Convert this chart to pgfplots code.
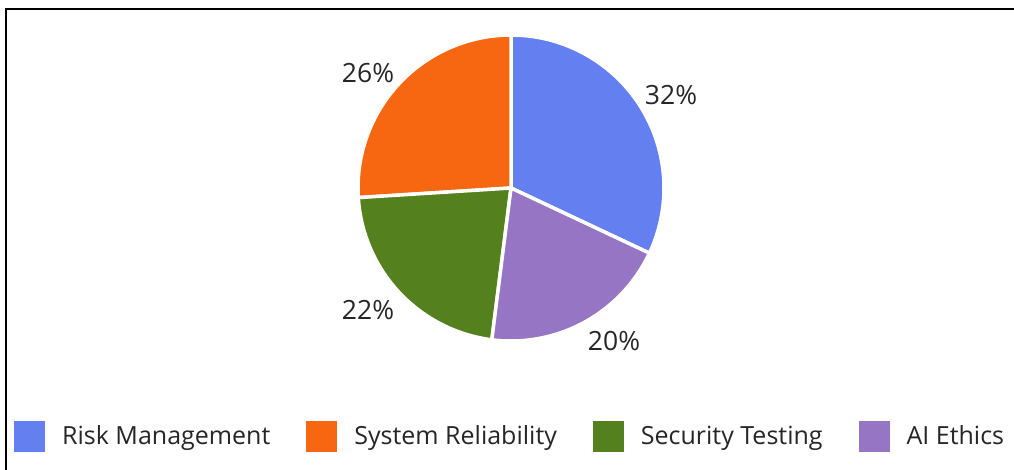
\documentclass[border=0pt]{standalone}
\usepackage{pgfplots}
\pgfplotsset{compat=1.18}
\usepackage{fontspec}
\setmainfont{Open Sans}
\definecolor{cRisk}{HTML}{6480F0}
\definecolor{cSys}{HTML}{F76610}
\definecolor{cSec}{HTML}{54801E}
\definecolor{cAI}{HTML}{9575C4}
\definecolor{txt}{HTML}{262626}
% shares in percent
\def\pA{32}\def\pB{20}\def\pC{22}\def\pD{26}
\pgfmathsetmacro\aA{90}
\pgfmathsetmacro\aB{\aA-3.6*\pA}
\pgfmathsetmacro\aC{\aB-3.6*\pB}
\pgfmathsetmacro\aD{\aC-3.6*\pC}
\pgfmathsetmacro\aE{\aD-3.6*\pD}
\begin{document}
\begin{tikzpicture}
\useasboundingbox (0,0) rectangle (1014bp,470bp);
\begin{axis}[
  at={(0,0)}, anchor=south west,
  scale only axis, width=1014bp, height=470bp,
  xmin=0, xmax=1014, ymin=0, ymax=470, y dir=reverse,
  hide axis, clip=false,
  legend columns=4,
  legend style={at={(axis cs:14,436)}, anchor=west, draw=none, fill=none,
    font=\fontsize{25bp}{30bp}\selectfont, text=txt, inner sep=0pt,
    /tikz/every odd column/.append style={column sep=15bp},
    /tikz/every even column/.append style={column sep=34bp}},
  legend image code/.code={\fill[#1,draw=none] (0bp,-15.5bp) rectangle (31bp,15.5bp);},
  slice/.style={draw=white, line width=3.5bp, line join=round, samples=90, variable=\t},
]
\addplot[slice, fill=cRisk, domain=\aB:\aA] ({511+153*cos(\t)},{188-153*sin(\t)}) -- (axis cs:511,188) -- cycle;
\addlegendentry{Risk Management}
\addplot[slice, fill=cSys, domain=\aE:\aD] ({511+153*cos(\t)},{188-153*sin(\t)}) -- (axis cs:511,188) -- cycle;
\addlegendentry{System Reliability}
\addplot[slice, fill=cSec, domain=\aD:\aC] ({511+153*cos(\t)},{188-153*sin(\t)}) -- (axis cs:511,188) -- cycle;
\addlegendentry{Security Testing}
\addplot[slice, fill=cAI, domain=\aC:\aB] ({511+153*cos(\t)},{188-153*sin(\t)}) -- (axis cs:511,188) -- cycle;
\addlegendentry{AI Ethics}
\addplot[forget plot, draw=none, mark=none, nodes near coords, point meta=explicit symbolic,
  nodes near coords style={anchor=center, text=txt, font=\fontsize{26.5bp}{30bp}\selectfont}]
  coordinates {(671,95) [32\%] (368,73) [26\%] (368,310) [22\%] (614,341) [20\%]};
\end{axis}
\draw[line width=2bp, black] (6bp,0bp) -- (6bp,461bp) -- (1014bp,461bp);
\end{tikzpicture}
\end{document}
